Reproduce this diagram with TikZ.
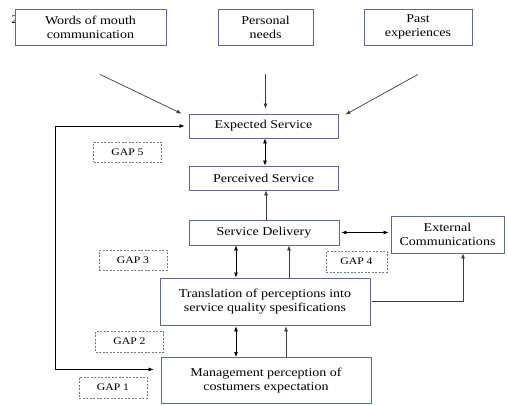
\documentclass[tikz,border=0pt]{standalone}
\usepackage{fontspec}
\setmainfont{Liberation Serif}[FakeStretch=1.17]
\usetikzlibrary{arrows.meta}

\begin{document}
\begin{tikzpicture}[x=1pt,y=-1pt,
    box/.style={draw=boxcol,fill=white,line width=0.8pt,align=center,inner sep=1pt,font=\fontsize{12}{14}\selectfont},
    gapbox/.style={draw=gapcol,dashed,line width=0.7pt,dash pattern=on 2pt off 1.5pt,minimum width=68pt,minimum height=20pt,inner sep=0pt,font=\fontsize{10}{12}\selectfont},
    arr/.style={-{Latex[length=5pt,width=4pt]},draw=arrcol,line width=0.7pt},
    dbl/.style={{Latex[length=5pt,width=4pt]}-{Latex[length=5pt,width=4pt]},line width=0.7pt}]
    \definecolor{boxcol}{HTML}{5C6C8C}
    \definecolor{gapcol}{HTML}{6E7A96}
    \definecolor{arrcol}{HTML}{3C3C3C}
    \useasboundingbox (0,0) rectangle (508,404);

    \node[font=\fontsize{12}{14}\selectfont] (stray) at (15,20) {2};

    % expectations
    \node[box,minimum width=151pt,minimum height=36pt] (words) at (90.5,27) {Words of mouth\\communication};
    \node[box,minimum width=95pt,minimum height=36pt] (personal) at (265.5,27) {Personal\\needs};
    \node[box,minimum width=108pt,minimum height=36pt] (past) at (418,27) {Past\\experiences};

    \node[box,minimum width=149pt,minimum height=24pt] (expected) at (263.5,126) {Expected Service};
    \node[box,minimum width=149pt,minimum height=24pt] (perceived) at (263.5,178) {Perceived Service};
    \node[box,minimum width=150pt,minimum height=25pt] (delivery) at (264,232.5) {Service Delivery};
    \node[box,minimum width=113pt,minimum height=37pt] (external) at (447.5,234.5) {External\\Communications};
    \node[box,minimum width=210pt,minimum height=47pt] (translation) at (265,301.5) {Translation of perceptions into\\service quality spesifications};
    \node[box,minimum width=210pt,minimum height=46pt,anchor=north] (management) at (266,357) {Management perception of\\costumers expectation};

    % gaps
    \node[gapbox] (gap5) at (127.5,152) {GAP 5};
    \node[gapbox] (gap3) at (133,260) {GAP 3};
    \node[gapbox,minimum width=61pt,minimum height=21pt] (gap4) at (356.5,261.5) {GAP 4};
    \node[gapbox,minimum height=21pt] (gap2) at (129.5,341.5) {GAP 2};
    \node[gapbox,minimum height=21pt] (gap1) at (113,387.5) {GAP 1};

    \draw[arr] ([xshift=9.5pt,yshift=-29pt]words.south) -- ([xshift=-7pt]expected.north west);
    \draw[arr] ([yshift=-29pt]personal.south) -- ([yshift=5pt]expected.north -| personal.south);
    \draw[arr] ([yshift=-29pt]past.south) -- ([xshift=7pt,yshift=-1pt]expected.north east);

    \draw[dbl] ([xshift=1.5pt]expected.south) -- ([xshift=1.5pt]perceived.north);
    \draw[arr] ([xshift=2pt]delivery.south |- delivery.north) -- ([xshift=2pt]delivery.south |- perceived.south);
    \draw[dbl] ([xshift=2pt]delivery.east) -- ([xshift=-2pt]delivery.east -| external.west);
    \draw[dbl] ([xshift=-28pt]delivery.south) -- ([xshift=-28pt]delivery.south |- translation.north);
    \draw[arr] ([xshift=25pt]delivery.south |- translation.north) -- ([xshift=25pt]delivery.south);
    \draw[arr] ([xshift=2pt]translation.east) -| ([xshift=15.5pt]external.south);
    \draw[dbl] ([xshift=-29pt,yshift=-1pt]translation.south) -- ([xshift=-29pt]translation.south |- management.north);
    \draw[arr] ([xshift=21pt]translation.south |- management.north) -- ([xshift=21pt,yshift=-1pt]translation.south);
    \draw[dbl] ([xshift=-7pt,yshift=11pt]management.west) -- ++(-98,0) |- ([xshift=-4pt]expected.west);
\end{tikzpicture}
\end{document}
